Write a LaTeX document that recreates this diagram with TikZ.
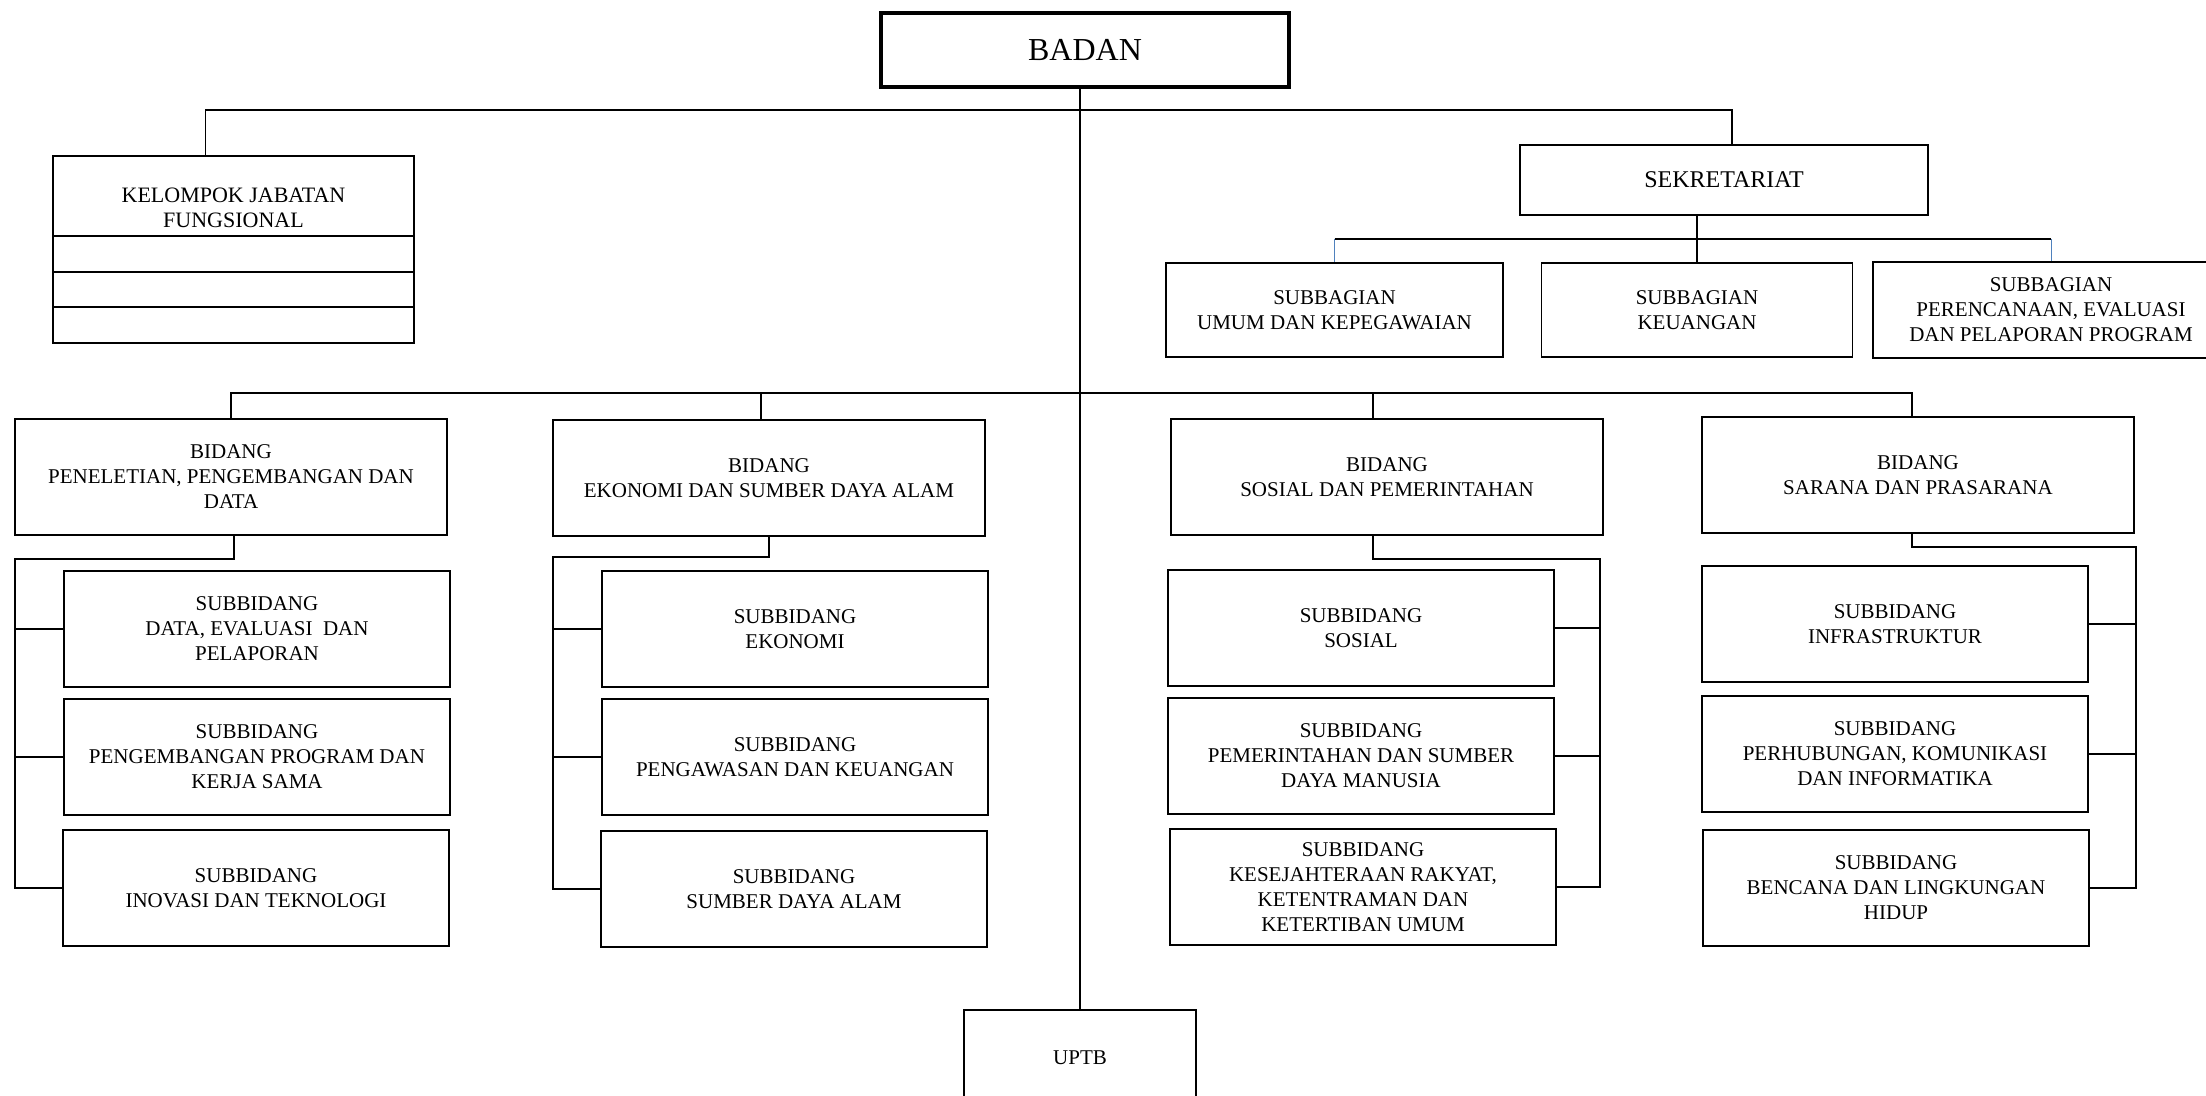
\documentclass[tikz,border=0pt]{standalone}
\usepackage{fontspec}
\setmainfont{Liberation Serif}
\definecolor{linkblue}{RGB}{79,129,189}

\begin{document}
\begin{tikzpicture}[x=0.5pt, y=-0.5pt,
    box/.style={draw, line width=0.8pt, align=center, inner sep=2pt,
                font=\fontsize{10.5}{12.5}\selectfont},
    unitbox/.style={box, minimum width=193pt, minimum height=58pt},
    fieldbox/.style={box, minimum width=216pt, minimum height=58pt},
    link/.style={line width=0.8pt}]
    \useasboundingbox (0,0) rectangle (2206,1096);

    % Head
    \node[draw, line width=2pt, minimum width=204pt, minimum height=37pt,
          font=\fontsize{16}{18}\selectfont] (badan) at (1085,50) {BADAN};

    % Kelompok jabatan fungsional
    \node[draw, line width=0.9pt, minimum width=180.5pt, minimum height=93.5pt] (kjf) at (233.5,249.5) {};
    \node[align=center, font=\fontsize{11}{12.5}\selectfont] (kjftext) at (233.5,208) {KELOMPOK JABATAN\\FUNGSIONAL};
    \foreach \y in {236,272,307}
        \draw[line width=0.9pt] (kjf.west |- 0,\y) -- (kjf.east |- 0,\y);

    % Sekretariat and its subbagian
    \node[box, minimum width=204pt, minimum height=35pt, font=\fontsize{12}{14}\selectfont] (sek) at (1724,180) {SEKRETARIAT};
    \node[box, minimum width=168.5pt, minimum height=47pt] (sb1) at (1334.5,310) {SUBBAGIAN\\UMUM DAN KEPEGAWAIAN};
    \node[box, minimum width=155.5pt, minimum height=47pt] (sb2) at (1697,310) {SUBBAGIAN\\KEUANGAN};
    \node[box, minimum width=178pt, minimum height=48pt] (sb3) at (2051,310) {SUBBAGIAN\\PERENCANAAN, EVALUASI\\DAN PELAPORAN PROGRAM};

    % Bidang
    \node[fieldbox] (b1) at (231,477) {BIDANG\\PENELETIAN, PENGEMBANGAN DAN\\DATA};
    \node[fieldbox] (b2) at (769,478) {BIDANG\\EKONOMI DAN SUMBER DAYA ALAM};
    \node[fieldbox] (b3) at (1387,477) {BIDANG\\SOSIAL DAN PEMERINTAHAN};
    \node[fieldbox] (b4) at (1918,475) {BIDANG\\SARANA DAN PRASARANA};

    % Subbidang, first column
    \node[unitbox] (s11) at (257,629) {SUBBIDANG\\DATA, EVALUASI~ DAN\\PELAPORAN};
    \node[unitbox] (s12) at (257,757) {SUBBIDANG\\PENGEMBANGAN PROGRAM DAN\\KERJA SAMA};
    \node[unitbox] (s13) at (256,888) {SUBBIDANG\\INOVASI DAN TEKNOLOGI};

    % Subbidang, second column
    \node[unitbox] (s21) at (795,629) {SUBBIDANG\\EKONOMI};
    \node[unitbox] (s22) at (795,757) {SUBBIDANG\\PENGAWASAN DAN KEUANGAN};
    \node[unitbox] (s23) at (794,889) {SUBBIDANG\\SUMBER DAYA ALAM};

    % Subbidang, third column
    \node[unitbox] (s31) at (1361,628) {SUBBIDANG\\SOSIAL};
    \node[unitbox] (s32) at (1361,756) {SUBBIDANG\\PEMERINTAHAN DAN SUMBER\\DAYA MANUSIA};
    \node[unitbox] (s33) at (1363,887) {SUBBIDANG\\KESEJAHTERAAN RAKYAT,\\KETENTRAMAN DAN\\KETERTIBAN UMUM};

    % Subbidang, fourth column
    \node[unitbox] (s41) at (1895,624) {SUBBIDANG\\INFRASTRUKTUR};
    \node[unitbox] (s42) at (1895,754) {SUBBIDANG\\PERHUBUNGAN, KOMUNIKASI\\DAN INFORMATIKA};
    \node[unitbox] (s43) at (1896,888) {SUBBIDANG\\BENCANA DAN LINGKUNGAN\\HIDUP};

    % UPTB
    \node[box, minimum width=116pt, minimum height=48pt] (uptb) at (1080,1058) {UPTB};

    % Bus points
    \coordinate (topbus) at (1078,110);
    \coordinate (sekbus) at (1700,239);
    \coordinate (bidbus) at (1078,393);

    % Central line
    \draw[link] (badan.south -| uptb.north) -- (uptb.north);

    % Top bus
    \draw[link] ([xshift=-14pt]kjf.north) |- (topbus) -| ([xshift=4pt]sek.north);

    % Sekretariat bus
    \draw[link] (sb1.north |- sekbus) -- (sb3.north |- sekbus);
    \draw[link] (sb2.north |- sek.south) -- (sb2.north);
    \draw[line width=0.5pt, linkblue] (sb1.north |- sekbus) -- (sb1.north);
    \draw[line width=0.5pt, linkblue] (sb3.north |- sekbus) -- (sb3.north);

    % Bidang bus
    \draw[link] (b1.north) |- (bidbus) -| ([xshift=-3pt]b4.north);
    \draw[link] ([xshift=-4pt]b2.north) -- ([xshift=-4pt]b2.north |- bidbus);
    \draw[link] ([xshift=-7pt]b3.north) -- ([xshift=-7pt]b3.north |- bidbus);

    % First column spine
    \coordinate (sp1) at (15,559);
    \draw[link] ([xshift=1.5pt]b1.south) |- (sp1) |- (s13.west);
    \draw[link] (s11.west) -- (s11.west -| sp1);
    \draw[link] (s12.west) -- (s12.west -| sp1);

    % Second column spine
    \coordinate (sp2) at (553,557);
    \draw[link] (b2.south) |- (sp2) |- (s23.west);
    \draw[link] (s21.west) -- (s21.west -| sp2);
    \draw[link] (s22.west) -- (s22.west -| sp2);

    % Third column spine
    \coordinate (sp3) at (1600,559);
    \draw[link] ([xshift=-7pt]b3.south) |- (sp3) |- (s33.east);
    \draw[link] (s31.east) -- (s31.east -| sp3);
    \draw[link] (s32.east) -- (s32.east -| sp3);

    % Fourth column spine
    \coordinate (sp4) at (2136,547);
    \draw[link] ([xshift=-3pt]b4.south) |- (sp4) |- (s43.east);
    \draw[link] (s41.east) -- (s41.east -| sp4);
    \draw[link] (s42.east) -- (s42.east -| sp4);
\end{tikzpicture}
\end{document}
